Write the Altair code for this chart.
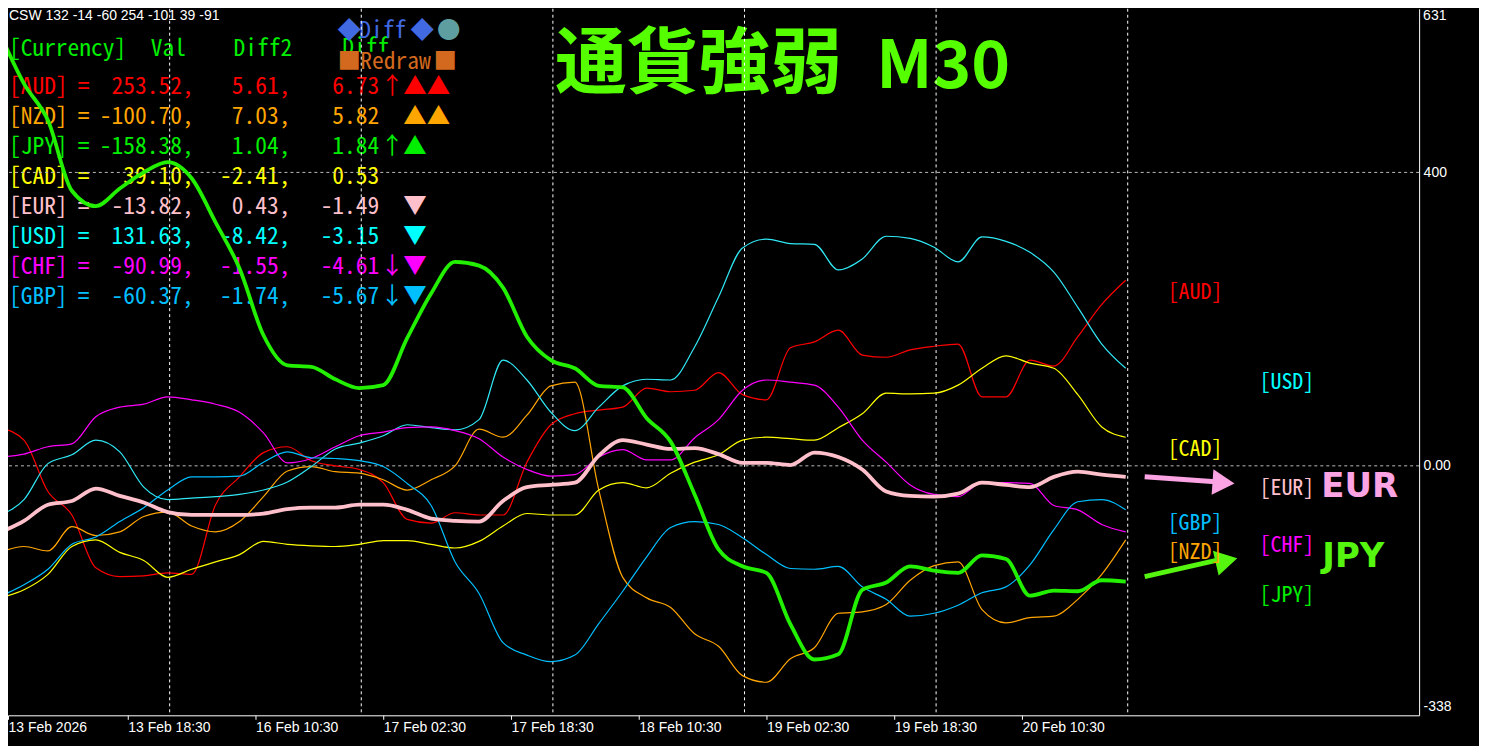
import altair as alt
import pandas as pd

# ------------------------------------------------------------------ data
bars = list(range(0, 142, 3))  # M30 bar index, 48 samples

AUD = [52, 35, -35, -67, -139, -151, -150, -146, -148, -53, -15, 18, 26, 7, 0, -5,
       -23, -73, -78, -64, -67, -67, 5, 56, 71, 76, 80, 106, 101, 103, 127, 97,
       90, 161, 169, 185, 151, 148, 158, 163, 166, 94, 94, 144, 136, 176, 220, 253]
NZD = [-118, -110, -116, -83, -95, -90, -69, -63, -82, -90, -76, -42, -7, -1, -8, -10,
       -19, -33, -19, 0, 50, 39, 69, 109, 114, -33, -152, -180, -193, -229, -246, -286,
       -295, -263, -248, -201, -199, -189, -156, -136, -131, -196, -214, -207, -205, -182, -148, -101]
JPY = [589, 521, 471, 375, 354, 378, 400, 414, 392, 332, 269, 178, 137, 135, 118, 106,
       110, 174, 235, 278, 273, 243, 176, 144, 133, 109, 107, 65, 33, -39, -114, -137,
       -146, -216, -264, -257, -169, -159, -137, -143, -146, -122, -127, -177, -170, -171, -156, -158]
CAD = [-180, -169, -148, -110, -101, -118, -129, -152, -141, -131, -121, -103, -107, -109, -110, -107,
       -102, -102, -107, -112, -103, -82, -65, -67, -67, -33, -23, -30, -10, 5, 15, 35,
       39, 37, 35, 52, 71, 99, 98, 99, 110, 133, 150, 140, 133, 97, 53, 39]
EUR = [-91, -75, -53, -48, -31, -41, -50, -63, -67, -67, -67, -65, -59, -57, -57, -53,
       -53, -60, -72, -75, -76, -48, -29, -26, -23, 14, 35, 29, 23, 24, 16, 4,
       4, 1, 18, 12, -5, -35, -41, -42, -38, -23, -26, -29, -15, -8, -12, -15]
USD = [-67, -46, 3, 15, 35, 19, -29, -46, -44, -42, -39, -33, -22, -1, 23, 31,
       41, 56, 52, 49, 63, 144, 117, 73, 48, 80, 109, 118, 117, 162, 230, 297,
       309, 303, 302, 267, 282, 313, 310, 298, 278, 312, 306, 291, 264, 216, 166, 133]
CHF = [12, 16, 26, 30, 67, 80, 84, 94, 90, 84, 73, 45, 4, 10, 26, 41,
       46, 52, 53, 48, 37, 12, -5, -14, -12, 12, 22, 8, 8, 38, 63, 103,
       117, 114, 110, 80, 35, 5, -26, -39, -42, -23, -23, -24, -54, -60, -80, -90]
GBP = [-178, -162, -141, -107, -97, -76, -57, -33, -15, -15, -14, 5, 19, 11, 10, 7,
       -1, -24, -54, -131, -174, -241, -258, -267, -258, -215, -171, -124, -84, -76, -80, -98,
       -121, -140, -141, -137, -165, -182, -205, -201, -190, -173, -165, -135, -87, -49, -46, -60]

currencies = ["AUD", "NZD", "JPY", "CAD", "EUR", "USD", "CHF", "GBP"]
vals = ["253.52", "-100.70", "-158.38", "39.10", "-13.82", "131.63", "-90.99", "-60.37"]
diff2 = ["5.61", "7.03", "1.04", "-2.41", "0.43", "-8.42", "-1.55", "-1.74"]
diff = ["6.73", "5.82", "1.84", "0.53", "-1.49", "-3.15", "-4.61", "-5.67"]
arrows = ["↑", "", "↑", "", "", "", "↓", "↓"]
signals = ["▲▲", "▲▲", "▲", "", "▼", "▼", "▼", "▼"]
csw_values = [132, -14, -60, 254, -101, 39, -91]

tick_bars = [1, 16, 32, 48, 64, 80, 96, 112, 128]
tick_labels = ["13 Feb 2026", "13 Feb 18:30", "16 Feb 10:30", "17 Feb 02:30", "17 Feb 18:30",
               "18 Feb 10:30", "19 Feb 02:30", "19 Feb 18:30", "20 Feb 10:30"]
day_lines = [21.25, 45.25, 69.25, 93.25, 117.25, 141.25]
level_lines = [400, 0]
y_ticks = [-338, 0, 400]
y_max_label = "631"

# ------------------------------------------------------------------ styles / layout
series = dict(zip(currencies, [AUD, NZD, JPY, CAD, EUR, USD, CHF, GBP]))
text_col = {"AUD": "#FF0000", "NZD": "#FFA500", "JPY": "#00EE00", "CAD": "#FFFF00",
            "EUR": "#FFC0CB", "USD": "#00FFFF", "CHF": "#FF00FF", "GBP": "#00BFFF"}
line_col = dict(text_col, JPY="#22F000", USD="#30E8F5")
HDR = "#00EE00"
TITLE = "#55FF00"
PINK = "#FBA3E3"
GREEN = "#55F510"

W, H = 1414, 708
XD = [1, 177.75]
YD = [-340.1, 623.1]
xs = alt.Scale(domain=XD, nice=False, zero=False)
ys = alt.Scale(domain=YD, nice=False, zero=False)
MONO = "Noto Sans Mono CJK JP, Noto Sans CJK JP, DejaVu Sans Mono, monospace"

label_expr = "[" + ",".join(f"'{s}'" for s in tick_labels) + "][indexof([" + \
    ",".join(str(b) for b in tick_bars) + "], datum.value)]"

x_axis = alt.Axis(values=tick_bars, labelExpr=label_expr, title=None, grid=False,
                  domain=True, domainColor="white", domainWidth=1, ticks=True,
                  tickColor="white", tickSize=4, labelColor="white",
                  labelFont="Liberation Sans", labelFontSize=14, labelAlign="left",
                  labelFlush=False, labelPadding=1, labelOverlap=False, labelBound=False)
y_axis = alt.Axis(orient="right", values=y_ticks, title=None, grid=False, ticks=False,
                  labelExpr="datum.value === 0 ? '0.00' : '' + datum.value",
                  labelBaseline=alt.ExprRef(expr="datum.value < -300 ? 'bottom' : 'middle'"),
                  domain=True, domainColor="white", domainWidth=1, labelColor="white",
                  labelFont="Liberation Sans", labelFontSize=14, labelFlush=False,
                  labelPadding=4, labelOverlap=False)


def X(field="t"):
    return alt.X(f"{field}:Q", scale=xs, axis=x_axis)


def Y(field="v"):
    return alt.Y(f"{field}:Q", scale=ys, axis=y_axis)


def at(px, py):
    """page pixel position -> data coordinates (plot origin at page 8,8)"""
    t = XD[0] + (px - 8) * (XD[1] - XD[0]) / W
    v = YD[1] - (py - 8) * (YD[1] - YD[0]) / H
    return t, v


def cell(s, px, py, c, fs):
    t, v = at(px, py)
    return dict(t=t, v=v, s=s, c=c, fs=fs)


def text_layer(rows, align, font, weight="normal"):
    return alt.Chart(pd.DataFrame(rows)).mark_text(
        align=align, baseline="middle", font=font, fontWeight=weight
    ).encode(
        x=X(), y=Y(), text="s:N",
        color=alt.Color("c:N", scale=None),
        size=alt.Size("fs:Q", scale=None),
    )


FS = 23.5
left_rows, right_rows, center_rows = [], [], []
left_rows += [cell("[Currency]", 9, 48, HDR, FS), cell("Val", 151, 48, HDR, FS),
              cell("Diff2", 234, 48, HDR, FS), cell("Diff", 343, 47, HDR, FS)]
for i, c in enumerate(currencies):
    y = 86.5 + 30 * i
    col = text_col[c]
    left_rows.append(cell(f"[{c}]", 9, y, col, FS))
    left_rows.append(cell("=", 78, y, col, FS))
    right_rows.append(cell(vals[i] + ",", 194, y, col, FS))
    right_rows.append(cell(diff2[i] + ",", 291, y, col, FS))
    right_rows.append(cell(diff[i], 380, y, col, FS))
    if arrows[i]:
        center_rows.append(cell(arrows[i], 393, y, col, FS))
    if signals[i]:
        left_rows.append(cell(signals[i], 404, y, col, FS))

blue_left = [cell("Diff", 360, 30, "#4169E1", FS)]
blue_center = [cell("◆", 350, 30, "#4169E1", FS), cell("◆", 423, 30, "#4169E1", FS),
               cell("●", 449.5, 30, "#5F9EA0", FS)]

redraw_left = [cell("Redraw", 361, 61, "#D2691E", FS)]
redraw_center = [cell("■", 350, 61, "#D2691E", FS), cell("■", 446, 61, "#D2691E", FS)]

t1, v1 = at(339, 51)
t2, v2 = at(458, 72)
redraw_rect = alt.Chart(pd.DataFrame([dict(t=t1, v=v1, t2=t2, v2=v2)])).mark_rect(color="black").encode(
    x=X(), x2="t2:Q", y=Y(), y2="v2:Q")

csw_rows = [cell("CSW " + " ".join(str(v) for v in csw_values), 9, 15.5, "white", 14)]
title_rows = [cell("通貨強弱", 556, 64, TITLE, 72), cell("M30", 878, 67, TITLE, 66)]
ymax_rows = [cell(y_max_label, 1426, 15.5, "white", 14)]

right_label_pos = {"AUD": (1170, 292), "USD": (1262, 382), "CAD": (1170, 449),
                   "EUR": (1262, 488), "GBP": (1170, 523), "NZD": (1170, 552),
                   "CHF": (1262, 545.5), "JPY": (1262, 595.5)}
rlabel_rows = [cell(f"[{c}]", p[0], p[1], text_col[c], 22) for c, p in right_label_pos.items()]
big_rows = [cell("EUR", 1324, 487, PINK, 34), cell("JPY", 1325, 557, GREEN, 34)]

# arrows
sh = []
for (a, b, col) in [((1147, 477), (1218, 482), PINK), ((1147, 577), (1222, 560), GREEN)]:
    ta, va = at(*a)
    tb, vb = at(*b)
    sh.append(dict(t=ta, v=va, t2=tb, v2=vb, c=col))
shafts = alt.Chart(pd.DataFrame(sh)).mark_rule(strokeWidth=5).encode(
    x=X(), x2="t2:Q", y=Y(), y2="v2:Q", color=alt.Color("c:N", scale=None))
hd = []
for (p, ang, col) in [((1226, 483), 4, PINK), ((1229, 561), 347, GREEN)]:
    t, v = at(*p)
    hd.append(dict(t=t, v=v, a=ang, c=col))
heads = alt.Chart(pd.DataFrame(hd)).mark_point(shape="triangle-right", filled=True, size=650,
                                               opacity=1, strokeWidth=0).encode(
    x=X(), y=Y(), angle=alt.Angle("a:Q", scale=None), color=alt.Color("c:N", scale=None))

# grid
vrules = alt.Chart(pd.DataFrame({"t": day_lines})).mark_rule(
    color="white", strokeDash=[3, 3], strokeWidth=1).encode(x=X())
hrules = alt.Chart(pd.DataFrame({"v": level_lines})).mark_rule(
    color="#BBBBBB", strokeDash=[3, 3], strokeWidth=1).encode(y=Y())

# lines
rows = []
for c in currencies:
    for b, v in zip(bars, series[c]):
        rows.append(dict(t=b, v=v, cur=c))
df = pd.DataFrame(rows)
thin_cur = [c for c in currencies if c not in ("EUR", "JPY")]

thin = alt.Chart(df[df.cur.isin(thin_cur)]).mark_line(
    strokeWidth=1.2, interpolate="monotone", clip=True).encode(
    x=X(), y=Y(),
    color=alt.Color("cur:N", scale=alt.Scale(domain=thin_cur, range=[line_col[c] for c in thin_cur]),
                    legend=None),
)
eur = alt.Chart(df[df.cur == "EUR"]).mark_line(strokeWidth=3.8, color=line_col["EUR"],
                                               interpolate="monotone", clip=True).encode(x=X(), y=Y())
jpy = alt.Chart(df[df.cur == "JPY"]).mark_line(strokeWidth=3.8, color=line_col["JPY"],
                                               interpolate="monotone", clip=True).encode(x=X(), y=Y())

chart = alt.layer(
    text_layer(csw_rows, "left", "Liberation Sans"),
    text_layer(ymax_rows, "left", "Liberation Sans"),
    text_layer(left_rows + blue_left, "left", MONO),
    text_layer(right_rows, "right", MONO),
    text_layer(center_rows + blue_center, "center", MONO),
    text_layer(title_rows, "left", "Noto Sans CJK JP", "bold"),
    redraw_rect,
    text_layer(redraw_left, "left", MONO),
    text_layer(redraw_center, "center", MONO),
    vrules, hrules,
    thin, eur, jpy,
    shafts, heads,
    text_layer(rlabel_rows, "left", MONO),
    text_layer(big_rows, "left", "DejaVu Sans", "bold"),
).properties(
    width=W, height=H,
    autosize=alt.AutoSizeParams(type="none"),
    padding={"left": 0, "top": 0, "right": 60, "bottom": 30},
).configure(background="black").configure_view(strokeWidth=0)

chart.save("out.html", embed_options={"renderer": "svg", "actions": False})
